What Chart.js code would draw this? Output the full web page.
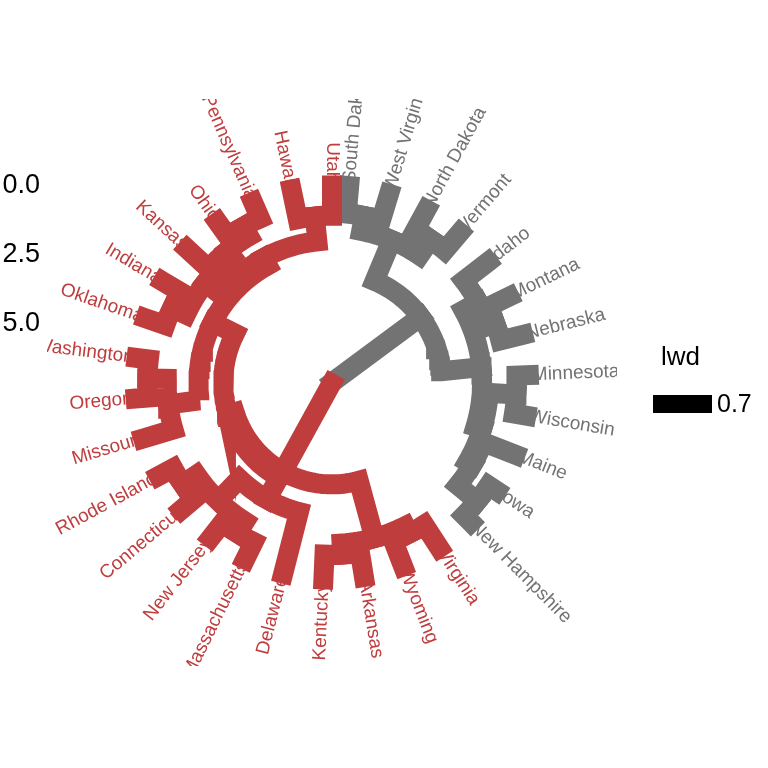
<!DOCTYPE html>
<html>
<head>
<meta charset="utf-8">
<script src="https://cdn.jsdelivr.net/npm/chart.js@4.4.1/dist/chart.umd.min.js"></script>
<style>
  html, body { margin: 0; padding: 0; background: #ffffff; }
</style>
</head>
<body>
<canvas id="dend" width="768" height="768"></canvas>
<script>
// leaves, clockwise from 12 o'clock
var leaves = ["South Dakota", "West Virginia", "North Dakota", "Vermont", "Idaho", "Montana",
  "Nebraska", "Minnesota", "Wisconsin", "Maine", "Iowa", "New Hampshire",
  "Virginia", "Wyoming", "Arkansas", "Kentucky", "Delaware", "Massachusetts", "New Jersey",
  "Connecticut", "Rhode Island", "Missouri", "Oregon", "Washington", "Oklahoma", "Indiana",
  "Kansas", "Ohio", "Pennsylvania", "Hawaii", "Utah"];
var clusterSizes = [12, 19];
var clusterColors = ["#737373", "#C03D3E"];

// merges: a string is a leaf, a number is an earlier merge
var mergeA = ["South Dakota", "North Dakota", 0, "Montana", "Idaho", "Minnesota", "Iowa", "Maine", 5, 4, 2,
  "Virginia", "Arkansas", 11, "Massachusetts", "Connecticut", 14, "Delaware", "Oregon", "Missouri",
  "Oklahoma", "Ohio", "Kansas", 20, "Hawaii", 23, 19, 17, 13, 10];
var mergeB = ["West Virginia", "Vermont", 1, "Nebraska", 3, "Wisconsin", "New Hampshire", 6, 7, 8, 9,
  "Wyoming", "Kentucky", 12, "New Jersey", "Rhode Island", 15, 16, "Washington", 18,
  "Indiana", "Pennsylvania", 21, 22, "Utah", 24, 25, 26, 27, 28];
var mergeH = [1.0, 0.85, 1.55, 0.85, 1.1, 0.45, 0.35, 1.25, 1.45, 1.7, 3.15,
  1.0, 0.9, 1.3, 0.7, 0.6, 1.2, 2.3, 0.45, 1.15,
  0.75, 0.65, 1.05, 1.3, 1.1, 2.0, 2.3, 3.2, 3.45, 7.1];

var rTicks = [0, 2.5, 5];
var lwdLevels = ["0.7"];

// geometry of the polar panel (height units)
var rOuter = 7.14, xHalf = 10.33, yHalf = 10.27, startAngle = 5, sweep = 355;
var labelH = -0.11;

var step = sweep / (leaves.length - 1);
function leafAngle(i) { return startAngle + i * step; }
function leafCluster(i) { return i < clusterSizes[0] ? 0 : 1; }
function polar(ang, h) {
  var r = Math.max(0, rOuter - h), a = ang * Math.PI / 180;
  return { x: r * Math.sin(a), y: r * Math.cos(a) };
}

var info = [];
function nodeOf(ref) {
  if (typeof ref === "string") {
    var i = leaves.indexOf(ref);
    return { ang: leafAngle(i), h: 0, cl: [leafCluster(i)] };
  }
  return info[ref];
}
var datasets = [];
mergeH.forEach(function (H, m) {
  var a = nodeOf(mergeA[m]), b = nodeOf(mergeB[m]);
  var ang = (a.ang + b.ang) / 2;
  var cl = a.cl.concat(b.cl).filter(function (c, k, arr) { return arr.indexOf(c) === k; });
  info[m] = { ang: ang, h: H, cl: cl };
  [a, b].forEach(function (c) {
    var pts = [polar(c.ang, c.h), polar(c.ang, H)];
    if (rOuter - H > 0.3) {
      var n = Math.max(2, Math.ceil(Math.abs(ang - c.ang) / 1.5));
      for (var k = 1; k <= n; k++) pts.push(polar(c.ang + (ang - c.ang) * k / n, H));
    }
    datasets.push({
      data: pts,
      showLine: true,
      borderColor: c.cl.length === 1 ? clusterColors[c.cl[0]] : "#000000",
      borderWidth: 20,
      borderCapStyle: "square",
      borderJoinStyle: "miter",
      pointRadius: 0,
      tension: 0,
      fill: false,
      order: c.cl[0] === 1 ? 0 : 1
    });
  });
});

var fontFamily = '"Liberation Sans", Arial, Helvetica, sans-serif';

var leafLabels = {
  id: "leafLabels",
  beforeDatasetsDraw: function (chart) {
    var ctx = chart.ctx, ca = chart.chartArea, sx = chart.scales.x, sy = chart.scales.y;
    ctx.save();
    ctx.beginPath();
    ctx.rect(ca.left, ca.top, ca.right - ca.left, ca.bottom - ca.top);
    ctx.clip();
    ctx.font = "19px " + fontFamily;
    ctx.textBaseline = "middle";
    leaves.forEach(function (name, i) {
      var ang = leafAngle(i), p = polar(ang, labelH);
      ctx.save();
      ctx.translate(sx.getPixelForValue(p.x), sy.getPixelForValue(p.y));
      ctx.fillStyle = clusterColors[leafCluster(i)];
      if (ang < 180) { ctx.rotate((ang - 90) * Math.PI / 180); ctx.textAlign = "left"; }
      else { ctx.rotate((ang - 270) * Math.PI / 180); ctx.textAlign = "right"; }
      ctx.fillText(name, 0, 0);
      ctx.restore();
    });
    ctx.restore();
  }
};

var lwdLegend = {
  id: "lwdLegend",
  afterDraw: function (chart) {
    var ctx = chart.ctx;
    ctx.save();
    ctx.fillStyle = "#000000";
    ctx.font = "26px " + fontFamily;
    ctx.textAlign = "left";
    ctx.textBaseline = "alphabetic";
    ctx.fillText("lwd", 661, 365);
    ctx.fillRect(653, 395, 59, 18);
    ctx.font = "25px " + fontFamily;
    ctx.textBaseline = "middle";
    ctx.fillText(lwdLevels[0], 717, 405);
    ctx.restore();
  }
};

new Chart(document.getElementById("dend"), {
  type: "scatter",
  data: { datasets: datasets },
  options: {
    responsive: false,
    animation: false,
    layout: { padding: { top: 99, bottom: 102, right: 151, left: 0 } },
    plugins: { legend: { display: false }, tooltip: { enabled: false } },
    scales: {
      x: { type: "linear", min: -xHalf, max: xHalf, display: false },
      y: {
        type: "linear", min: -yHalf, max: yHalf, position: "left",
        grid: { display: false, drawTicks: false },
        border: { display: false },
        afterBuildTicks: function (s) { s.ticks = rTicks.map(function (t) { return { value: rOuter - t }; }); },
        afterFit: function (s) { s.width = 47; },
        ticks: {
          autoSkip: false, padding: 7, color: "#000000",
          font: { size: 27, family: fontFamily },
          callback: function (v, idx) { return rTicks[idx].toFixed(1); }
        }
      }
    }
  },
  plugins: [leafLabels, lwdLegend]
});
</script>
</body>
</html>
